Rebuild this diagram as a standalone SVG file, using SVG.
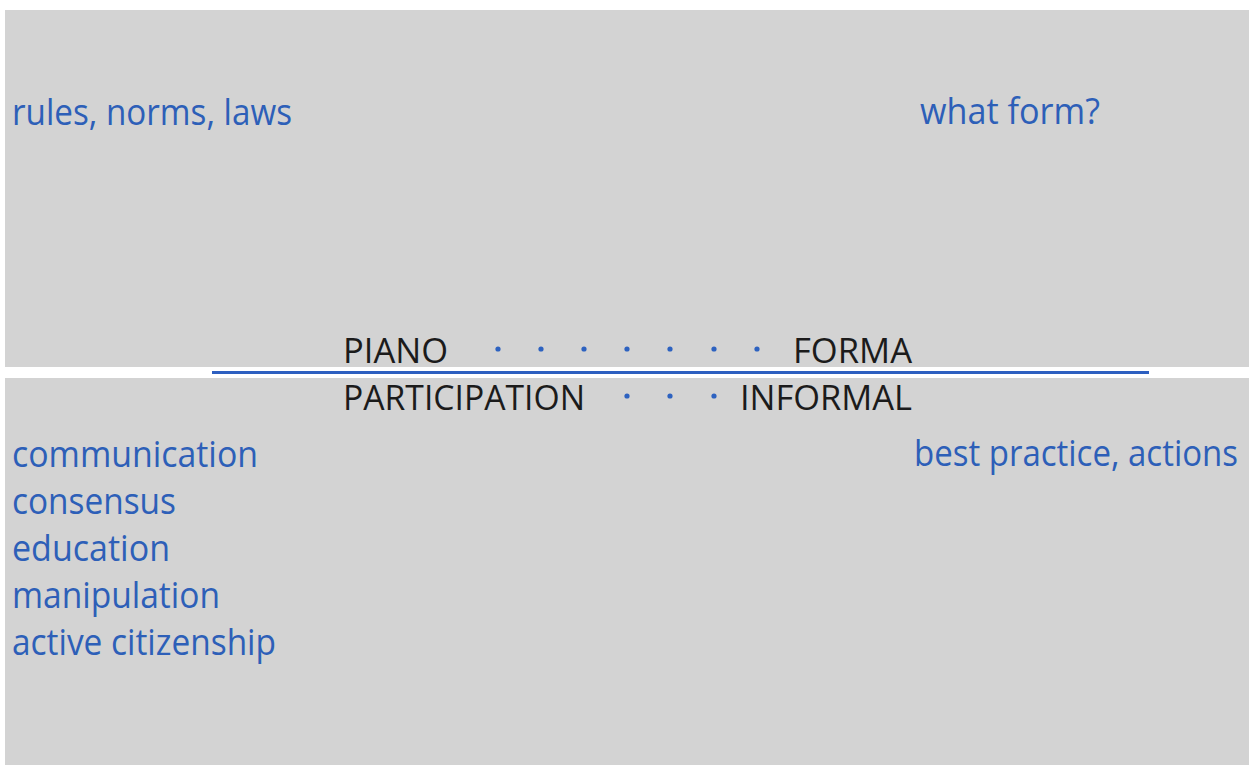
<svg xmlns="http://www.w3.org/2000/svg" width="1249" height="765" viewBox="0 0 1249 765">
<style>
.blue{font-family:"Open Sans","Noto Sans","Liberation Sans",sans-serif;font-size:37px;fill:#2d5fb8;}
.black{font-family:"Open Sans","Noto Sans","Liberation Sans",sans-serif;font-size:34px;fill:#1b1b1b;font-weight:400;}
.dot{fill:#2d62c0;}
</style>
<rect x="0" y="0" width="1249" height="765" fill="#ffffff"/>
<g id="panels">
<rect x="5" y="10" width="1244" height="357" fill="#d3d3d3"/>
<rect x="5" y="378" width="1244" height="387" fill="#d3d3d3"/>
</g>
<g id="connectors">
<line x1="212" y1="372.5" x2="1149" y2="372.5" stroke="#2d5fc0" stroke-width="3"/>
</g>
<g id="top-left"><text class="blue" x="12" y="125" textLength="280" lengthAdjust="spacingAndGlyphs">rules, norms, laws</text></g>
<g id="top-right"><text class="blue" x="920" y="124" textLength="180" lengthAdjust="spacingAndGlyphs">what form?</text></g>
<g id="piano-forma">
<text class="black" x="343" y="363" textLength="105" lengthAdjust="spacingAndGlyphs">PIANO</text>
<circle class="dot" cx="498" cy="349" r="2.6"/>
<circle class="dot" cx="541" cy="349" r="2.6"/>
<circle class="dot" cx="584" cy="349" r="2.6"/>
<circle class="dot" cx="627" cy="349" r="2.6"/>
<circle class="dot" cx="670" cy="349" r="2.6"/>
<circle class="dot" cx="714" cy="349" r="2.6"/>
<circle class="dot" cx="757" cy="349" r="2.6"/>
<text class="black" x="793" y="363" textLength="119" lengthAdjust="spacingAndGlyphs">FORMA</text>
</g>
<g id="participation-informal">
<text class="black" x="343" y="410" textLength="242" lengthAdjust="spacingAndGlyphs">PARTICIPATION</text>
<circle class="dot" cx="627" cy="396" r="2.6"/>
<circle class="dot" cx="670" cy="396" r="2.6"/>
<circle class="dot" cx="714" cy="396" r="2.6"/>
<text class="black" x="740" y="410" textLength="172" lengthAdjust="spacingAndGlyphs">INFORMAL</text>
</g>
<g id="bottom-left">
<text class="blue" x="12" y="467" textLength="246" lengthAdjust="spacingAndGlyphs">communication</text>
<text class="blue" x="12" y="514" textLength="164" lengthAdjust="spacingAndGlyphs">consensus</text>
<text class="blue" x="12" y="561" textLength="158" lengthAdjust="spacingAndGlyphs">education</text>
<text class="blue" x="12" y="608" textLength="208" lengthAdjust="spacingAndGlyphs">manipulation</text>
<text class="blue" x="12" y="655" textLength="264" lengthAdjust="spacingAndGlyphs">active citizenship</text>
</g>
<g id="bottom-right"><text class="blue" x="914" y="466" textLength="324" lengthAdjust="spacingAndGlyphs">best practice, actions</text></g>
</svg>
